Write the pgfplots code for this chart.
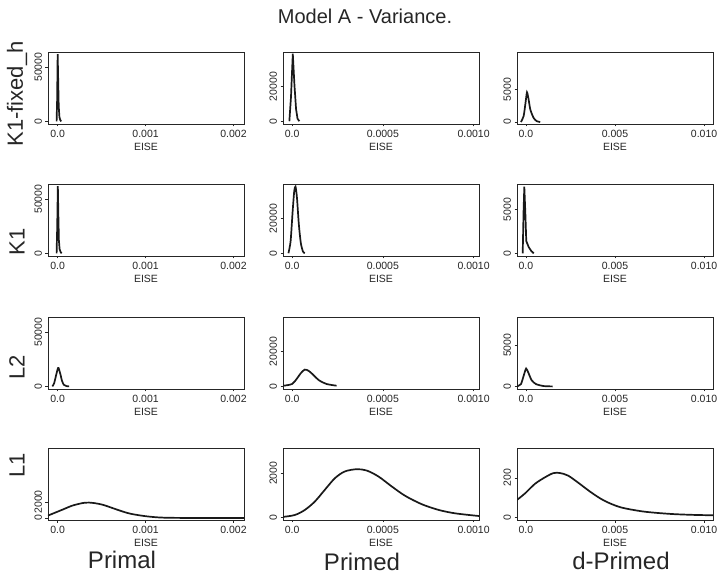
\documentclass[border=0pt]{standalone}
\usepackage{fontspec}
\setmainfont{Liberation Sans}
\usepackage{pgfplots}
\pgfplotsset{compat=1.18}
\pgfplotsset{
  panel/.style={
    scale only axis, width=196bp, height=72bp,
    anchor=north west,
    axis line style={line width=0.8bp, black!85},
    tick style={line width=0.6bp, black!85},
    tick align=outside, major tick length=2.5bp,
    xtick pos=bottom, ytick pos=left,
    scaled ticks=false,
    ticklabel style={font=\fontsize{10.5bp}{11bp}\selectfont, text=black!85},
    yticklabel style={rotate=90, anchor=south},
    xlabel={EISE},
    xlabel style={font=\fontsize{10.5bp}{11bp}\selectfont, text=black!85, inner sep=0pt,
      at={(axis description cs:0.5,0)}, anchor=center, yshift=-23bp},
  },
  curve/.style={black!90, line width=1.7bp, no marks},
  c1/.style={xmin=-0.00011, xmax=0.00212, xtick={0,0.001,0.002}, xticklabels={0.0,0.001,0.002}},
  c2/.style={xmin=-0.00005, xmax=0.00103, xtick={0,0.0005,0.001}, xticklabels={0.0,0.0005,0.0010}},
  c3/.style={xmin=-0.0005, xmax=0.0105, xtick={0,0.005,0.01}, xticklabels={0.0,0.005,0.010}},
}
\begin{document}
\begin{tikzpicture}
\useasboundingbox (0,0) rectangle (726bp,578bp);
\fill[white] (0,0) rectangle (726bp,578bp);

% titles and labels
\tikzset{lab/.style={text=black!85, inner sep=0pt}}
\node[lab, font=\fontsize{20bp}{22bp}\selectfont] at (365bp,562bp) {Model A - Variance.};
\node[lab, font=\fontsize{24bp}{26bp}\selectfont] at (122bp,18bp) {Primal};
\node[lab, font=\fontsize{24bp}{26bp}\selectfont] at (362bp,16bp) {Primed};
\node[lab, font=\fontsize{24bp}{26bp}\selectfont] at (621bp,17bp) {d-Primed};
\node[lab, font=\fontsize{22bp}{24bp}\selectfont, rotate=90] at (17bp,484bp) {K1-fixed\_h};
\node[lab, font=\fontsize{22bp}{24bp}\selectfont, rotate=90] at (17bp,336bp) {K1};
\node[lab, font=\fontsize{22bp}{24bp}\selectfont, rotate=90] at (17bp,211bp) {L2};
\node[lab, font=\fontsize{22bp}{24bp}\selectfont, rotate=90] at (17bp,113bp) {L1};

% row 1: K1-fixed_h
\begin{axis}[panel, c1, at={(48bp,526bp)}, ymin=-2400, ymax=64000, ytick={0,50000}, yticklabels={0,50000}]
\addplot[curve] coordinates {(-0.000012,0) (-0.000006,20000) (0.000000,62000) (0.000006,38000) (0.000012,14000) (0.00002,4000) (0.00003,1200) (0.00004,0)};
\end{axis}
\begin{axis}[panel, c2, at={(283bp,526bp)}, ymin=-1600, ymax=40000, ytick={0,20000}, yticklabels={0,20000}]
\addplot[curve] coordinates {(-0.000015,0) (-0.000006,14000) (0.000004,39000) (0.000013,21000) (0.000022,7000) (0.00003,1500) (0.00004,0)};
\end{axis}
\begin{axis}[panel, c3, at={(517bp,526bp)}, ymin=-300, ymax=10800, ytick={0,5000}, yticklabels={0,5000}]
\addplot[curve, smooth, tension=0.4] coordinates {(-0.00028,0) (-0.00013,900) (-0.00002,3000) (0.00006,4600) (0.00015,3500) (0.00025,1900) (0.00043,650) (0.0006,150) (0.0008,0)};
\end{axis}

% row 2: K1
\begin{axis}[panel, c1, at={(48bp,394bp)}, ymin=-2400, ymax=64000, ytick={0,50000}, yticklabels={0,50000}]
\addplot[curve] coordinates {(-0.000012,0) (-0.000005,25000) (0.000002,62000) (0.000008,35000) (0.000014,12000) (0.000022,4000) (0.000032,1500) (0.000045,0)};
\end{axis}
\begin{axis}[panel, c2, at={(283bp,394bp)}, ymin=-1600, ymax=40000, ytick={0,20000}, yticklabels={0,20000}]
\addplot[curve, smooth, tension=0.4] coordinates {(-0.00002,0) (-0.000008,7000) (0.000003,24000) (0.000012,36000) (0.000019,38500) (0.000027,32000) (0.000037,17000) (0.000048,6000) (0.00006,1000) (0.00007,0)};
\end{axis}
\begin{axis}[panel, c3, at={(517bp,394bp)}, ymin=-300, ymax=7900, ytick={0,5000}, yticklabels={0,5000}]
\addplot[curve] coordinates {(-0.00018,0) (-0.00013,4900) (-0.00009,7600) (-0.00003,4500) (0.00002,1400) (0.00016,700) (0.0003,270) (0.00044,0)};
\end{axis}

% row 3: L2
\begin{axis}[panel, c1, at={(48bp,261bp)}, ymin=-2400, ymax=64000, ytick={0,50000}, yticklabels={0,50000}]
\addplot[curve, smooth, tension=0.4] coordinates {(-0.00006,0) (-0.00004,3000) (-0.00002,9500) (0.00000,16000) (0.00001,17000) (0.00003,11500) (0.00005,5000) (0.00007,1500) (0.0001,300) (0.00013,0)};
\end{axis}
\begin{axis}[panel, c2, at={(283bp,261bp)}, ymin=-1600, ymax=40000, ytick={0,20000}, yticklabels={0,20000}]
\addplot[curve, smooth] coordinates {(-0.000047,300) (0,1300) (0.000028,4600) (0.000047,7400) (0.00007,9600) (0.000094,8700) (0.000123,5900) (0.00015,3300) (0.00019,1300) (0.000245,300)};
\end{axis}
\begin{axis}[panel, c3, at={(517bp,261bp)}, ymin=-315, ymax=8425, ytick={0,5000}, yticklabels={0,5000}]
\addplot[curve, smooth, tension=0.4] coordinates {(-0.0005,0) (-0.00028,275) (-0.00013,1260) (0.00001,2170) (0.00014,1650) (0.00032,750) (0.00057,275) (0.001,40) (0.0015,0)};
\end{axis}

% row 4: L1
\begin{axis}[panel, c1, at={(48bp,130bp)}, ymin=-250, ymax=8700, ytick={0,2000}, yticklabels={0,2000}]
\addplot[curve, smooth] coordinates {(-0.00011,300) (0.00006,1060) (0.000176,1570) (0.00031,1900) (0.000404,1870) (0.00052,1620) (0.00067,1060) (0.00082,550) (0.00101,210) (0.00121,40) (0.0016,0) (0.00212,0)};
\end{axis}
\begin{axis}[panel, c2, at={(283bp,130bp)}, ymin=-120, ymax=3140, ytick={0,2000}, yticklabels={0,2000}]
\addplot[curve, smooth] coordinates {(-0.00005,20) (0.000015,106) (0.00007,333) (0.000125,712) (0.00018,1242) (0.000236,1773) (0.00029,2076) (0.000356,2180) (0.000411,2120) (0.000476,1850) (0.00055,1394) (0.000624,970) (0.000716,590) (0.000809,333) (0.0009,180) (0.00103,60)};
\end{axis}
\begin{axis}[panel, c3, at={(517bp,130bp)}, ymin=-14, ymax=352, ytick={0,200}, yticklabels={0,200}]
\addplot[curve, smooth] coordinates {(-0.0005,88) (-0.00004,122) (0.00051,170) (0.00107,203) (0.00153,224) (0.0019,225) (0.00236,212) (0.0029,178) (0.00365,127) (0.00438,85) (0.0053,51) (0.0066,29) (0.0081,17) (0.0094,12) (0.0105,10)};
\end{axis}
\end{tikzpicture}
\end{document}
